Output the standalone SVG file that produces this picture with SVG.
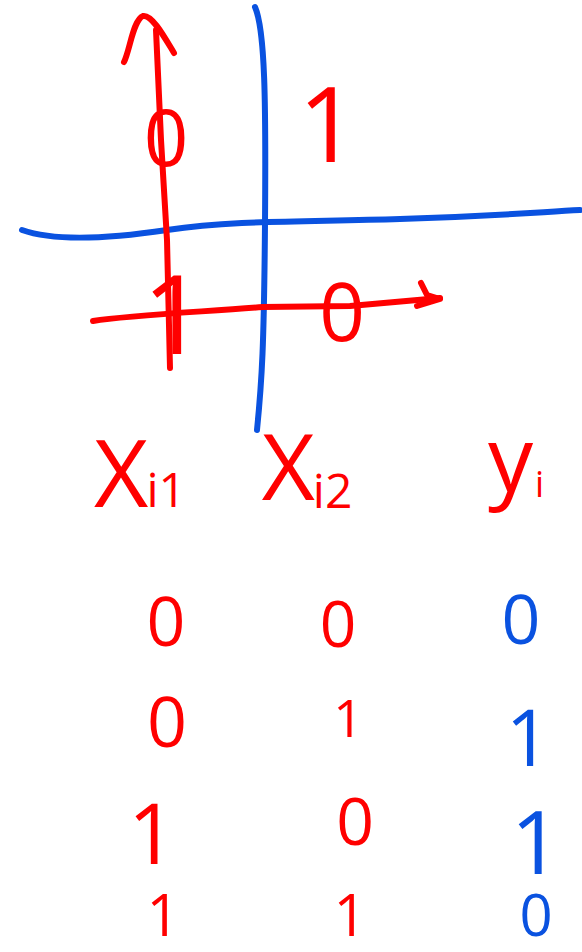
<svg xmlns="http://www.w3.org/2000/svg" width="582" height="952" viewBox="0 0 582 952">
<style>
.r{stroke:#ff0000;}
.b{stroke:#0a52e0;}
.ln{fill:none;stroke-width:6;stroke-linecap:round;stroke-linejoin:round;}
.t{font-family:"Open Sans","Liberation Sans",sans-serif;font-weight:380;text-anchor:middle;}
.tr{fill:#ff0000;}
.tb{fill:#0a52e0;}
</style>
<rect width="582" height="952" fill="#ffffff"/>
<g id="axes">
  <path class="ln b" d="M 22 230 C 50 240, 100 240, 167 230 S 300 222, 400 219 S 540 212, 580 210"/>
  <path class="ln b" d="M 255 7 C 265 30, 266 100, 265 223 S 262 380, 257 430"/>
  <path class="ln r" d="M 156 30 L 161 140 L 167 240 L 170 368"/>
  <path class="ln r" d="M 124 62 C 130 50, 133 20, 143 16 C 152 14, 165 38, 174 53"/>
  <path class="ln r" d="M 93 321 C 130 315, 200 312, 263 307 L 350 306 L 440 298"/>
  <path class="ln r" d="M 421 283 L 427 295 L 440 299 L 417 306"/>
</g>
<g id="plot-labels">
  <text class="t tr" x="166" y="166" font-size="78">0</text>
  <text class="t tr" x="328" y="162" font-size="104">1</text>
  <text class="t tr" x="174" y="354" font-size="110">1</text>
  <text class="t tr" x="342" y="341" font-size="80">0</text>
</g>
<g id="headers">
  <text class="t tr" x="140" y="507" font-size="94">X<tspan font-size="48" dx="-2">i1</tspan></text>
  <text class="t tr" x="307" y="500" font-size="92">X<tspan font-size="48" dx="-2" dy="8">i2</tspan></text>
  <text class="t tr" x="516" y="491" font-size="90">y<tspan font-size="36" dx="2" dy="6">i</tspan></text>
</g>
<g id="table">
  <text class="t tr" x="166" y="646" font-size="68">0</text>
  <text class="t tr" x="338" y="647" font-size="64">0</text>
  <text class="t tb" x="521" y="644" font-size="68">0</text>
  <text class="t tr" x="167" y="747" font-size="70">0</text>
  <text class="t tr" x="348" y="737" font-size="52">1</text>
  <text class="t tb" x="528" y="766" font-size="78">1</text>
  <text class="t tr" x="152" y="864" font-size="84">1</text>
  <text class="t tr" x="355" y="845" font-size="66">0</text>
  <text class="t tb" x="536" y="874" font-size="88">1</text>
  <text class="t tr" x="163" y="936" font-size="58">1</text>
  <text class="t tr" x="350" y="936" font-size="58">1</text>
  <text class="t tb" x="536" y="936" font-size="58">0</text>
</g>
</svg>
